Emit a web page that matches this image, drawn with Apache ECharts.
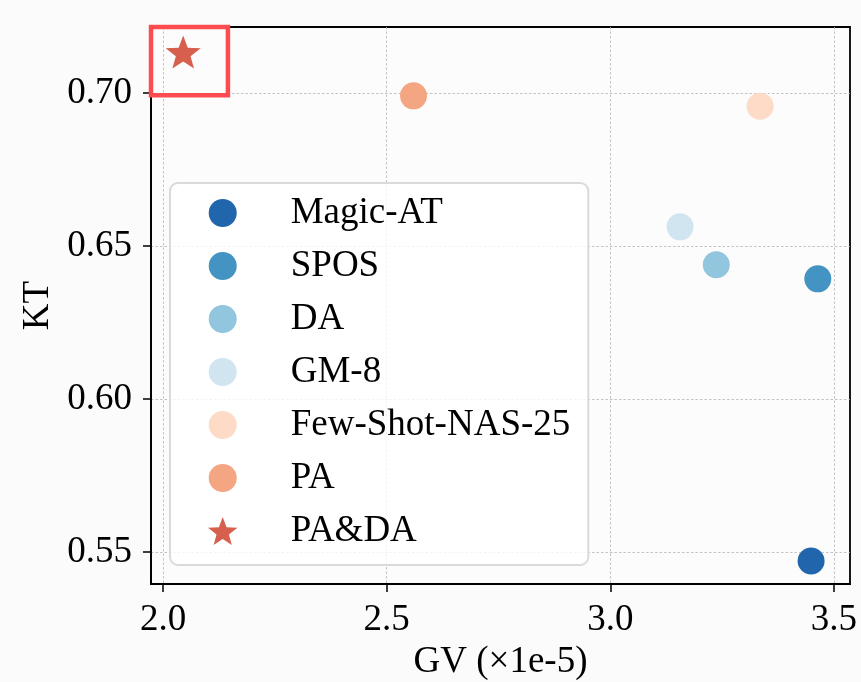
<!DOCTYPE html>
<html>
<head>
<meta charset="utf-8" />
<title>KT vs GV</title>
<script src="https://cdn.jsdelivr.net/npm/echarts@6/dist/echarts.min.js"></script>
<style>
	html, body { margin: 0; padding: 0; background: #fbfbfb; }
	#main { width: 861px; height: 682px; }
</style>
</head>
<body>
<div id="main"></div>
<script>
	// 数据
	var methods = ['Magic-AT', 'SPOS', 'DA', 'GM-8', 'Few-Shot-NAS-25', 'PA', 'PA&DA'];
	var gv = [3.449, 3.464, 3.237, 3.156, 3.335, 2.560, 2.045];
	var kt = [0.547, 0.6392, 0.6438, 0.6562, 0.6956, 0.699, 0.7133];
	var xTicks = [2.0, 2.5, 3.0, 3.5];
	var yTicks = [0.55, 0.60, 0.65, 0.70];
	// 高亮框 (PA&DA)
	var boxX = [1.964, 2.145];
	var boxY = [0.6992, 0.7221];

	var palette = ['#2166ac', '#4393c3', '#92c5de', '#d1e5f0', '#fddbc7', '#f4a582', '#d6604d'];
	var starPath = 'path://M50 0 L62.34 33.01 L97.55 34.55 L69.97 56.49 L79.39 90.45 L50 71 L20.61 90.45 L30.03 56.49 L2.45 34.55 L37.66 33.01 Z';
	var serif = 'Liberation Serif, Times New Roman, serif';

	var series = methods.map(function(name, i) {
		var isStar = name === 'PA&DA';
		var s = {
			name: name,
			type: 'scatter',
			symbol: isStar ? starPath : 'circle',
			symbolSize: isStar ? [35, 33] : 27,
			itemStyle: { color: palette[i], opacity: 1 },
			data: [[gv[i], kt[i]]],
			z: 3
		};
		if (isStar) {
			s.clip = false;
			s.markArea = {
				silent: true,
				itemStyle: {
					color: 'rgba(0,0,0,0)',
					borderColor: '#fd4c50',
					borderWidth: 4.5,
					borderRadius: 3
				},
				data: [[{ coord: [boxX[0], boxY[1]] }, { coord: [boxX[1], boxY[0]] }]]
			};
		}
		return s;
	});

	var myChart = echarts.init(document.getElementById('main'));
	myChart.setOption({
		backgroundColor: '#fbfbfb',
		animation: false,
		grid: {
			left: 151, right: 11, top: 27, bottom: 98,
			outerBoundsMode: 'none',
			containLabel: false,
			show: true,
			borderColor: '#000',
			borderWidth: 1.8,
			backgroundColor: '#fcfcfc'
		},
		legend: {
			orient: 'vertical',
			left: 170,
			top: 183,
			width: 420,
			padding: [10, 18, 14, 38],
			itemWidth: 30,
			itemHeight: 28,
			itemGap: 13,
			backgroundColor: 'rgba(255,255,255,0.8)',
			borderColor: '#dadada',
			borderWidth: 2,
			borderRadius: 8,
			data: methods,
			textStyle: {
				fontFamily: serif,
				fontSize: 37,
				color: '#000',
				lineHeight: 40,
				padding: [0, 0, 0, 48]
			}
		},
		xAxis: {
			type: 'value',
			min: 1.973,
			max: 3.536,
			name: 'GV (×1e-5)',
			nameLocation: 'middle',
			nameGap: 58,
			nameTextStyle: { fontFamily: serif, fontSize: 37, color: '#000' },
			axisLine: { show: true, onZero: false, lineStyle: { color: '#000', width: 1.8 } },
			axisTick: { show: true, length: 8, lineStyle: { color: '#000', width: 1.5 }, customValues: xTicks },
			axisLabel: {
				customValues: xTicks,
				margin: 18,
				fontFamily: serif,
				fontSize: 37,
				color: '#000',
				formatter: function(v) { return v.toFixed(1); }
			},
			splitLine: { show: true, lineStyle: { color: '#b4b4b4', width: 0.8, type: [2.5, 2] } }
		},
		yAxis: {
			type: 'value',
			min: 0.5395,
			max: 0.7215,
			name: 'KT',
			nameLocation: 'middle',
			nameGap: 94,
			nameTextStyle: { fontFamily: serif, fontSize: 37, color: '#000' },
			axisLine: { show: true, onZero: false, lineStyle: { color: '#000', width: 1.8 } },
			axisTick: { show: true, length: 8, lineStyle: { color: '#000', width: 1.5 }, customValues: yTicks },
			axisLabel: {
				customValues: yTicks,
				margin: 19,
				fontFamily: serif,
				fontSize: 37,
				color: '#000',
				formatter: function(v) { return v.toFixed(2); }
			},
			splitLine: { show: true, lineStyle: { color: '#b4b4b4', width: 0.8, type: [2.5, 2] } }
		},
		series: series
	});

	window.onresize = function() {
		myChart.resize();
	};
</script>
</body>
</html>
